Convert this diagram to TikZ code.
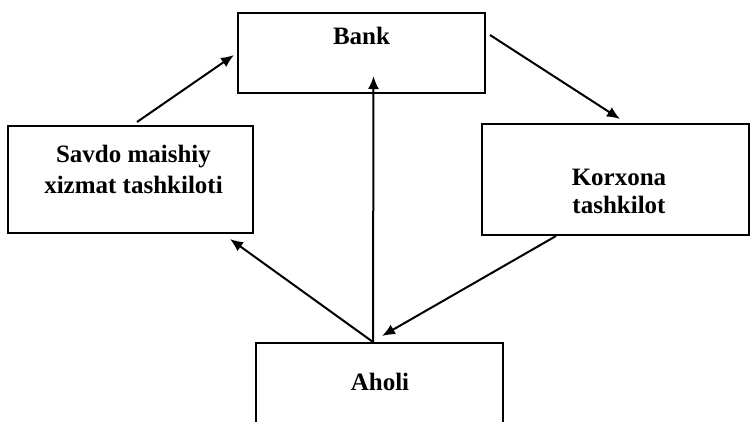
\documentclass[tikz,border=0pt]{standalone}
\usepackage{fontspec}
\setmainfont{Liberation Serif}
\usetikzlibrary{arrows.meta,calc}
\begin{document}
\begin{tikzpicture}[x=1pt,y=-1pt,
  box/.style={draw,line width=2pt,rectangle,inner sep=0pt},
  lbl/.style={inner sep=0pt,align=center},
  arr/.style={line width=2pt,-{Latex[length=13pt,width=11pt]}}]
\useasboundingbox (0,0) rectangle (750,421);
\clip (0,0) rectangle (750,421);
% boxes
\node[box,minimum width=247pt,minimum height=80pt] (bank) at (361.5,53) {};
\node[box,minimum width=245pt,minimum height=107pt] (savdo) at (130.5,179.5) {};
\node[box,minimum width=267pt,minimum height=111pt] (korx) at (615.5,179.5) {};
\node[box,minimum width=247pt,minimum height=114pt] (aholi) at (379.5,400) {};
% labels
\node[lbl,anchor=base,font=\bfseries\fontsize{25}{30}\selectfont] (tbank) at (361.5,44) {Bank};
\node[lbl,font=\bfseries\fontsize{25}{31}\selectfont] (tsavdo) at (133.5,169) {Savdo maishiy\\xizmat tashkiloti};
\node[lbl,font=\bfseries\fontsize{25}{28}\selectfont] (tkorx) at (619,191) {Korxona\\tashkilot};
\node[lbl,anchor=base,font=\bfseries\fontsize{25}{30}\selectfont] (taholi) at (380,390) {Aholi};
% connector end points
\coordinate (s0) at ($(savdo.north)+(6.5,-3)$);
\coordinate (b0) at ($(bank.west)+(-3,2)$);
\coordinate (b1) at ($(bank.east)+(4,-18)$);
\coordinate (k0) at ($(korx.north)+(4.5,-4)$);
\coordinate (a0) at ($(aholi.north)+(-6.5,0)$);
\coordinate (s1) at ($(savdo.south east)+(-24,5)$);
\coordinate (b2) at ($(bank.south)+(12,-18)$);
\coordinate (k1) at ($(korx.south west)+(75,0)$);
\coordinate (a1) at ($(aholi.north)+(2.5,-6)$);
% connectors
\draw[arr] (s0) -- (b0);
\draw[arr] (b1) -- (k0);
\draw[arr] (a0) -- (s1);
\draw[arr] (a0) -- (b2);
\draw[arr] (k1) -- (a1);
\end{tikzpicture}
\end{document}
